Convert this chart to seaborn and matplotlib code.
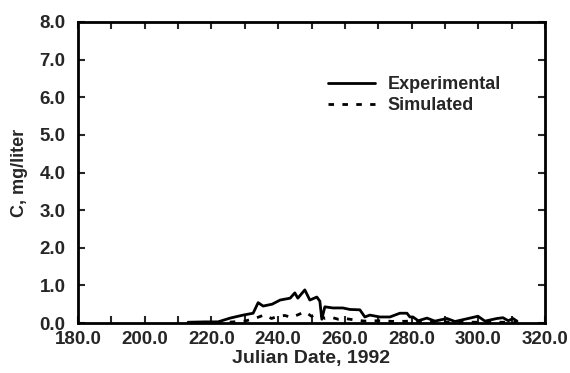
import matplotlib
matplotlib.use("Agg")
import matplotlib.pyplot as plt
import seaborn as sns
import numpy as np
import pandas as pd
from matplotlib.ticker import MultipleLocator

# Measured concentration (mg/liter) by Julian date
exp_days = [213, 218, 222, 225.6, 229.5, 232.5, 234.0, 235.5, 238.2, 240.6, 243.6,
            245.0, 245.9, 248.0, 249.5, 251.6, 252.5, 253.1, 254.0, 256.4, 259.4,
            261.5, 264.5, 266.0, 267.5, 270.5, 273.5, 276.5, 278.6, 279.5, 280.4,
            282.0, 284.6, 287.0, 290.6, 293.0, 297.5, 299.9, 302.0, 305.6, 307.4,
            309.0, 310.4, 311.6]
exp_conc = [0.02, 0.03, 0.03, 0.13, 0.21, 0.26, 0.54, 0.45, 0.50, 0.61, 0.66,
            0.80, 0.66, 0.88, 0.61, 0.69, 0.58, 0.10, 0.43, 0.40, 0.40,
            0.36, 0.35, 0.16, 0.21, 0.16, 0.16, 0.26, 0.26, 0.16, 0.16,
            0.06, 0.13, 0.05, 0.12, 0.04, 0.13, 0.18, 0.05, 0.12, 0.14,
            0.06, 0.12, 0.05]

# Model output
sim_days = [213, 225, 230, 233, 236, 238, 240, 242, 244, 246, 248, 250, 252, 254,
            256, 258, 260, 263, 266, 270, 275, 280, 285, 290, 300, 311.6]
sim_conc = [0.01, 0.02, 0.05, 0.12, 0.22, 0.12, 0.18, 0.20, 0.15, 0.22, 0.30, 0.18,
            0.25, 0.12, 0.15, 0.10, 0.12, 0.08, 0.05, 0.06, 0.04, 0.05, 0.02, 0.03,
            0.02, 0.02]

x_ticks = [180.0, 200.0, 220.0, 240.0, 260.0, 280.0, 300.0, 320.0]
y_ticks = [0.0, 1.0, 2.0, 3.0, 4.0, 5.0, 6.0, 7.0, 8.0]

sns.set_style("white")
plt.rcParams['font.family'] = ['Liberation Sans', 'DejaVu Sans']
plt.rcParams['font.weight'] = 'bold'

fig = plt.figure(figsize=(5.7, 3.73), dpi=100)
ax = fig.add_axes([78 / 570, 50 / 373, 467 / 570, 301 / 373])

exp_df = pd.DataFrame({"day": exp_days, "conc": exp_conc})
sim_df = pd.DataFrame({"day": sim_days, "conc": sim_conc})

sns.lineplot(data=exp_df, x="day", y="conc", ax=ax, color="black", lw=2.0,
             label="Experimental")
sns.lineplot(data=sim_df, x="day", y="conc", ax=ax, color="black", lw=2.0,
             dashes=False, label="Simulated")
ax.lines[1].set_dashes((2, 3))

ax.set_xlim(180, 320)
ax.set_ylim(0, 8)
ax.set_xticks(x_ticks)
ax.set_xticklabels([f"{v:.1f}" for v in x_ticks])
ax.set_yticks(y_ticks)
ax.set_yticklabels([f"{v:.1f}" for v in y_ticks])
ax.xaxis.set_minor_locator(MultipleLocator(10))

ax.tick_params(which="both", direction="in", top=True, right=True,
               bottom=True, left=True, length=5, width=1.5, labelsize=13.5)
ax.tick_params(axis="x", pad=6)
ax.tick_params(axis="y", pad=9)
for lab in ax.get_xticklabels() + ax.get_yticklabels():
    lab.set_fontweight("bold")

for sp in ax.spines.values():
    sp.set_visible(True)
    sp.set_color("black")
    sp.set_linewidth(2)

ax.set_xlabel("Julian Date, 1992", fontsize=14, fontweight="bold", labelpad=1)
ax.set_ylabel("C, mg/liter", fontsize=13, fontweight="bold", labelpad=8)

leg = ax.legend(loc="upper left", bbox_to_anchor=(0.5, 0.875), frameon=False,
                handlelength=2.6, handletextpad=0.7, labelspacing=0.25,
                prop={"size": 13, "weight": "bold"})

fig.savefig("out.png", dpi=100)
